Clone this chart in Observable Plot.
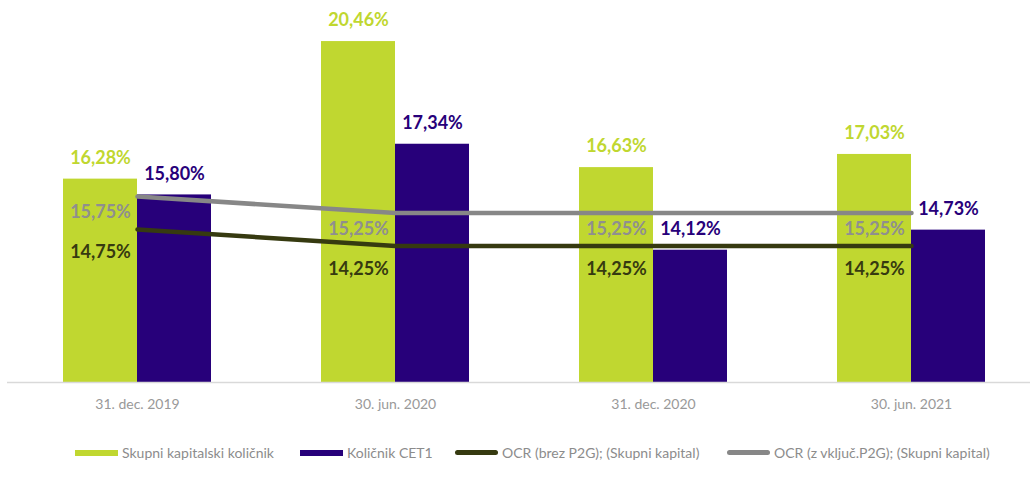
<!DOCTYPE html>
<html>
<head>
<meta charset="utf-8">
<script src="https://cdn.jsdelivr.net/npm/d3@7"></script>
<script src="https://cdn.jsdelivr.net/npm/@observablehq/plot@0.6"></script>
<style>
  html, body { margin: 0; padding: 0; background: #fff; }
  body { width: 1031px; height: 479px; overflow: hidden; font-family: Lato, "Open Sans", sans-serif; }
  #legend { height: 24px; margin-top: 19px; font-size: 14px; color: #8c8c8c; }
  .item { position: absolute; display: flex; align-items: center; }
  .sw { display: inline-block; width: 43px; height: 6px; margin-right: 4px; }
</style>
</head>
<body>
<div id="chart"></div>
<div id="legend" style="position:relative"></div>
<script>
const categories = ["31. dec. 2019", "30. jun. 2020", "31. dec. 2020", "30. jun. 2021"];
const skupni = [16.28, 20.46, 16.63, 17.03];
const cet1 = [15.80, 17.34, 14.12, 14.73];
const ocrBrez = [14.75, 14.25, 14.25, 14.25];
const ocrZ = [15.75, 15.25, 15.25, 15.25];
const seriesNames = ["Skupni kapitalski količnik", "Količnik CET1", "OCR (brez P2G); (Skupni kapital)", "OCR (z vključ.P2G); (Skupni kapital)"];

const colors = { green: "#c0d730", navy: "#27007a", dark: "#363a10", gray: "#878787" };
const fmt = v => v.toFixed(2).replace(".", ",") + "%";

const rows = (vals) => categories.map((c, i) => ({ cat: c, v: vals[i] }));
const dGreen = rows(skupni), dNavy = rows(cet1), dBrez = rows(ocrBrez), dZ = rows(ocrZ);

const yMin = 10.1, yMax = 21.1;
const half = 74;
const step = 258;
const lab = { fontFamily: "Lato, sans-serif", fontSize: 18, fontWeight: "bold" };

const chart = Plot.plot({
  width: 1031,
  height: 425,
  marginTop: 20,
  marginBottom: 43,
  marginLeft: 7,
  marginRight: 1,
  style: { fontFamily: "Lato, sans-serif", background: "#fff" },
  x: { domain: categories, range: [8, 8 + step * 4], padding: 0, label: null, tickSize: 0, tickPadding: 17 },
  y: { domain: [yMin, yMax], axis: null },
  marks: [
    Plot.barY(dGreen, { x: "cat", y1: yMin, y2: "v", fill: colors.green, insetLeft: step / 2 - half, insetRight: step / 2 }),
    Plot.barY(dNavy, { x: "cat", y1: yMin, y2: "v", fill: colors.navy, insetLeft: step / 2, insetRight: step / 2 - half }),
    Plot.ruleY([yMin], { stroke: "#d9d9d9", strokeWidth: 1.5 }),
    Plot.line(dZ, { x: "cat", y: "v", stroke: colors.gray, strokeWidth: 4.5, strokeLinecap: "round" }),
    Plot.line(dBrez, { x: "cat", y: "v", stroke: colors.dark, strokeWidth: 4.5, strokeLinecap: "round" }),
    Plot.text(dGreen, { x: "cat", y: "v", text: d => fmt(d.v), dx: -half / 2, dy: -21, fill: colors.green, ...lab }),
    Plot.text(dNavy, { x: "cat", y: "v", text: d => fmt(d.v), dx: half / 2, dy: -21, fill: colors.navy, ...lab }),
    Plot.text(dZ, { x: "cat", y: "v", text: d => fmt(d.v), dx: -half / 2, dy: 16, fill: "#8f8f8f", ...lab }),
    Plot.text(dBrez, { x: "cat", y: "v", text: d => fmt(d.v), dx: -half / 2, dy: 23, fill: colors.dark, ...lab }),
    Plot.axisX({ tickSize: 0, tickPadding: 17, fontSize: 14, fill: "#999", label: null })
  ]
});
document.getElementById("chart").appendChild(chart);

const legend = document.getElementById("legend");
const sw = [
  { left: 75, style: `background:${colors.green}` },
  { left: 300, style: `background:${colors.navy}` },
  { left: 455, style: `background:${colors.dark};border-radius:3px;height:5px` },
  { left: 727, style: `background:${colors.gray};border-radius:3px;height:5px` }
];
seriesNames.forEach((name, i) => {
  const it = document.createElement("div");
  it.className = "item";
  it.style.left = sw[i].left + "px";
  it.innerHTML = `<span class="sw" style="${sw[i].style}"></span><span>${name}</span>`;
  legend.appendChild(it);
});
</script>
</body>
</html>
